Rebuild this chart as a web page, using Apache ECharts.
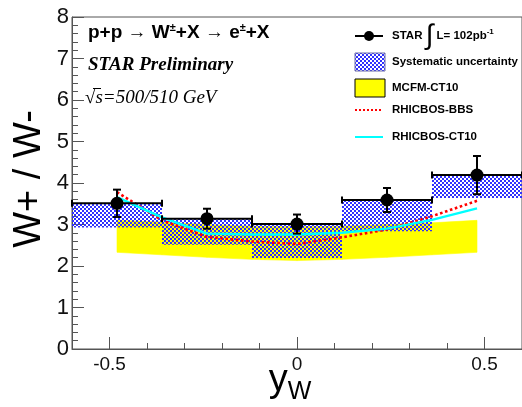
<!DOCTYPE html>
<html><head><meta charset="utf-8">
<script src="https://cdn.jsdelivr.net/npm/echarts@6/dist/echarts.min.js"></script>
<style>html,body{margin:0;padding:0;background:#fff}#c{width:522px;height:407px}</style>
</head><body><div id="c"></div>
<script>
// ---- data ----
const binCenter = [-0.48, -0.24, 0, 0.24, 0.48];
const binLow = [-0.6, -0.36, -0.12, 0.12, 0.36];
const binHigh = [-0.36, -0.12, 0.12, 0.36, 0.6];
const ratio = [3.51, 3.14, 3.01, 3.59, 4.19];
const statErr = [0.33, 0.24, 0.23, 0.29, 0.46];
const sysDown = [0.58, 0.63, 0.82, 0.75, 0.55];
const theoryX = [-0.48, -0.36, -0.24, -0.12, 0, 0.12, 0.24, 0.36, 0.48];
const mcfmLow = [2.33, 2.27, 2.21, 2.16, 2.13, 2.16, 2.21, 2.27, 2.33];
const mcfmHigh = [3.10, 3.06, 3.00, 2.96, 2.95, 2.96, 3.00, 3.04, 3.10];
const bbs = [3.78, 3.10, 2.70, 2.59, 2.53, 2.69, 2.88, 3.20, 3.57];
const ct10 = [3.66, 3.17, 2.78, 2.76, 2.76, 2.80, 2.90, 3.11, 3.39];
const xTickLabels = [-0.5, 0, 0.5];
const yTickLabels = [0, 1, 2, 3, 4, 5, 6, 7, 8];
const legendNames = ['STAR', 'Systematic uncertainty', 'MCFM-CT10', 'RHICBOS-BBS', 'RHICBOS-CT10'];

// ---- hatch pattern ----
function makeHatch() {
  const c = document.createElement('canvas');
  c.width = 4; c.height = 4;
  const ctx = c.getContext('2d');
  ctx.fillStyle = '#3030ff';
  for (let x = 0; x < 4; x++) for (let y = 0; y < 4; y++) {
    if ((Math.floor(x / 2) + Math.floor(y / 2)) % 2 === 0) ctx.fillRect(x, y, 1, 1);
  }
  return c;
}
const hatch = { image: makeHatch(), repeat: 'repeat' };

const chart = echarts.init(document.getElementById('c'), null, { renderer: 'canvas' });
const axisColor = '#555';
const sans = '"Liberation Sans", Arial, sans-serif';
const serif = '"Liberation Serif", "Times New Roman", serif';

const option = {
  animation: false,
  backgroundColor: '#fff',
  grid: { left: 72, top: 17, width: 459, height: 332, show: true, borderColor: axisColor, borderWidth: 1 },
  xAxis: [
    { type: 'value', min: -0.6, max: 0.6, interval: 0.1, position: 'bottom',
      axisLine: { onZero: false, lineStyle: { color: axisColor, width: 1 } },
      axisTick: { inside: true, length: 6, lineStyle: { color: axisColor } },
      axisLabel: { show: false }, splitLine: { show: false } },
    { type: 'value', min: -0.6, max: 0.6, position: 'bottom',
      axisLine: { show: false, onZero: false },
      axisTick: { inside: true, length: 12, customValues: xTickLabels, lineStyle: { color: axisColor } },
      axisLabel: { customValues: xTickLabels, fontSize: 19, color: '#111', fontFamily: sans, margin: 6,
        formatter: v => (Math.abs(v) < 1e-9 ? '0' : v.toFixed(1)) },
      splitLine: { show: false } }
  ],
  yAxis: {
    type: 'value', min: yTickLabels[0], max: yTickLabels[yTickLabels.length - 1], interval: 1,
    axisLine: { show: true, onZero: false, lineStyle: { color: axisColor } },
    axisTick: { inside: true, length: 12, lineStyle: { color: axisColor } },
    minorTick: { show: true, splitNumber: 5, length: 6, lineStyle: { color: axisColor } },
    axisLabel: { fontSize: 22, color: '#111', fontFamily: sans, margin: 3 },
    splitLine: { show: false }, minorSplitLine: { show: false }
  },
  series: [
    { // MCFM band
      type: 'custom', name: legendNames[2], xAxisIndex: 0, z: 1,
      data: theoryX.map((x, i) => [x, mcfmLow[i], mcfmHigh[i]]),
      renderItem: (params, api) => {
        const i = params.dataIndex;
        if (i >= theoryX.length - 1) return null;
        const pts = [
          api.coord([theoryX[i], mcfmHigh[i]]), api.coord([theoryX[i + 1], mcfmHigh[i + 1]]),
          api.coord([theoryX[i + 1], mcfmLow[i + 1]]), api.coord([theoryX[i], mcfmLow[i]])
        ];
        return { type: 'polygon', shape: { points: pts }, style: { fill: '#ffff00', stroke: '#ffff00', lineWidth: 0.6 } };
      }
    },
    { // systematic boxes
      type: 'custom', name: legendNames[1], xAxisIndex: 0, z: 2,
      data: binCenter.map((x, i) => [binLow[i], binHigh[i], ratio[i] - sysDown[i], ratio[i]]),
      renderItem: (params, api) => {
        const a = api.coord([api.value(0), api.value(3)]);
        const b = api.coord([api.value(1), api.value(2)]);
        return { type: 'rect', shape: { x: a[0], y: a[1], width: b[0] - a[0], height: b[1] - a[1] },
          style: { fill: hatch } };
      }
    },
    { type: 'line', name: legendNames[3], xAxisIndex: 0, z: 3, symbol: 'none',
      data: theoryX.map((x, i) => [x, bbs[i]]),
      lineStyle: { color: '#ff0000', width: 2.6, type: [2.6, 2.6] } },
    { type: 'line', name: legendNames[4], xAxisIndex: 0, z: 3, symbol: 'none',
      data: theoryX.map((x, i) => [x, ct10[i]]),
      lineStyle: { color: '#00ffff', width: 2.4 } },
    { // data points
      type: 'custom', name: legendNames[0], xAxisIndex: 0, z: 5,
      data: binCenter.map((x, i) => [x, ratio[i], statErr[i], binLow[i], binHigh[i]]),
      renderItem: (params, api) => {
        const x = api.value(0), v = api.value(1), e = api.value(2);
        const c = api.coord([x, v]);
        const l = api.coord([api.value(3), v]);
        const r = api.coord([api.value(4), v]);
        const t = api.coord([x, v + e]);
        const b = api.coord([x, v - e]);
        const st = { stroke: '#000', lineWidth: 2 };
        return { type: 'group', children: [
          { type: 'line', shape: { x1: l[0], y1: l[1], x2: r[0], y2: r[1] }, style: st },
          { type: 'line', shape: { x1: l[0], y1: l[1] - 3.5, x2: l[0], y2: l[1] + 3.5 }, style: st },
          { type: 'line', shape: { x1: r[0], y1: r[1] - 3.5, x2: r[0], y2: r[1] + 3.5 }, style: st },
          { type: 'line', shape: { x1: t[0], y1: t[1], x2: b[0], y2: b[1] }, style: st },
          { type: 'line', shape: { x1: t[0] - 4, y1: t[1], x2: t[0] + 4, y2: t[1] }, style: st },
          { type: 'line', shape: { x1: b[0] - 4, y1: b[1], x2: b[0] + 4, y2: b[1] }, style: st },
          { type: 'circle', shape: { cx: c[0], cy: c[1], r: 6.5 }, style: { fill: '#000' } }
        ] };
      }
    }
  ],
  graphic: [
    // axis titles
    { type: 'text', x: 30, y: 179, rotation: Math.PI / 2,
      style: { text: 'W+ / W-', font: '38px ' + sans, fill: '#000', align: 'center', verticalAlign: 'middle' } },
    { type: 'text', x: 290, y: 385,
      style: { text: '{y|y}{w|W}', align: 'center', verticalAlign: 'middle', fill: '#000',
        rich: { y: { fontSize: 38, fontFamily: sans, padding: [0, 0, 8, 0] }, w: { fontSize: 25, fontFamily: sans, padding: [14, 0, 0, 0] } } } },
    // in-plot labels
    { type: 'text', x: 88, y: 33,
      style: { text: '{b|p+p → W}{s|±}{b|+X → e}{s|±}{b|+X}', verticalAlign: 'middle', fill: '#000',
        rich: { b: { fontSize: 19, fontWeight: 'bold', fontFamily: sans }, s: { fontSize: 11, fontWeight: 'bold', fontFamily: sans, padding: [0, 0, 10, 0] } } } },
    { type: 'text', x: 88, y: 65,
      style: { text: 'STAR Preliminary', font: 'italic bold 19px ' + serif, fill: '#000', verticalAlign: 'middle' } },
    { type: 'text', x: 85, y: 98,
      style: { text: '√s=500/510 GeV', font: 'italic 19px ' + serif, fill: '#000', verticalAlign: 'middle' } },
    { type: 'line', shape: { x1: 93, y1: 88.5, x2: 101, y2: 88.5 }, style: { stroke: '#000', lineWidth: 1 } },
    // legend
    { type: 'line', shape: { x1: 355, y1: 36, x2: 383, y2: 36 }, style: { stroke: '#000', lineWidth: 2 } },
    { type: 'circle', shape: { cx: 369, cy: 36, r: 5 }, style: { fill: '#000' } },
    { type: 'text', x: 392, y: 36,
      style: { text: '{t|STAR }{i|∫}{t| L= 102pb}{s|-1}', verticalAlign: 'middle', fill: '#000',
        rich: { t: { fontSize: 11.5, fontWeight: 'bold', fontFamily: sans }, i: { fontSize: 28, fontFamily: sans, fontWeight: 'normal' }, s: { fontSize: 8, fontWeight: 'bold', fontFamily: sans, padding: [0, 0, 8, 0] } } } },
    { type: 'rect', shape: { x: 355, y: 53, width: 30, height: 18 }, style: { fill: hatch, stroke: '#6a6aa8', lineWidth: 1 } },
    { type: 'text', x: 392, y: 62, style: { text: legendNames[1], font: 'bold 11.5px ' + sans, fill: '#000', verticalAlign: 'middle' } },
    { type: 'rect', shape: { x: 355, y: 79, width: 30, height: 18 }, style: { fill: '#ffff00', stroke: '#000', lineWidth: 1 } },
    { type: 'text', x: 392, y: 88, style: { text: legendNames[2], font: 'bold 11.5px ' + sans, fill: '#000', verticalAlign: 'middle' } },
    { type: 'line', shape: { x1: 355, y1: 110, x2: 383, y2: 110 }, style: { stroke: '#ff0000', lineWidth: 2, lineDash: [2, 2] } },
    { type: 'text', x: 392, y: 110, style: { text: legendNames[3], font: 'bold 11.5px ' + sans, fill: '#000', verticalAlign: 'middle' } },
    { type: 'line', shape: { x1: 355, y1: 137, x2: 383, y2: 137 }, style: { stroke: '#00ffff', lineWidth: 2 } },
    { type: 'text', x: 392, y: 137, style: { text: legendNames[4], font: 'bold 11.5px ' + sans, fill: '#000', verticalAlign: 'middle' } }
  ]
};
chart.setOption(option);
</script>
</body></html>
